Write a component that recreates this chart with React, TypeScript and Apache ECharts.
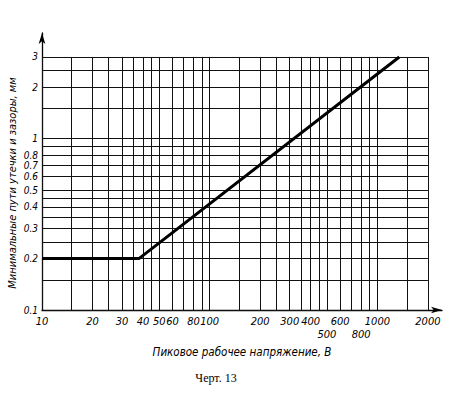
import React, { useEffect, useRef } from "react";
import * as echarts from "echarts";

// Grid values (log paper)
const xGrid = [10, 15, 20, 25, 30, 35, 40, 45, 50, 60, 70, 80, 90, 100, 150, 200, 250, 300, 350, 400, 450, 500, 600, 700, 800, 900, 1000, 1500, 2000];
const yGrid = [0.1, 0.15, 0.2, 0.25, 0.3, 0.35, 0.4, 0.45, 0.5, 0.6, 0.7, 0.8, 0.9, 1, 1.5, 2, 2.5, 3];
// Tick labels
const xLabels = [10, 20, 30, 40, 50, 60, 80, 100, 200, 300, 400, 500, 600, 800, 1000, 2000];
const xLowerRow = [500, 800];
const yLabels = [0.1, 0.2, 0.3, 0.4, 0.5, 0.6, 0.7, 0.8, 1, 2, 3];
// Curve
const voltage = [10, 38, 1350];
const clearance = [0.2, 0.2, 3];

const X_MIN = 10;
const X_GRID_MAX = 2000;
const Y_MIN = 0.1;
const Y_GRID_MAX = 3;

const FONT = "'DejaVu Sans Condensed', 'Liberation Sans Narrow', 'DejaVu Sans', sans-serif";

export default function App() {
  const ref = useRef<HTMLDivElement>(null);
  useEffect(() => {
    if (!ref.current) return;
    const chart = echarts.init(ref.current, undefined, { renderer: "svg" });
    const gridLines: any[] = [];
    xGrid.forEach((x) => gridLines.push([{ coord: [x, Y_MIN] }, { coord: [x, Y_GRID_MAX] }]));
    yGrid.forEach((y) => gridLines.push([{ coord: [X_MIN, y] }, { coord: [X_GRID_MAX, y] }]));
    const fmt = (v: number) => String(Number(Number(v).toPrecision(3)));
    chart.setOption({
      animation: false,
      backgroundColor: "#fff",
      grid: { left: 42, right: 9, top: 33, bottom: 85 },
      xAxis: {
        type: "log",
        logBase: 10,
        min: X_MIN,
        max: 2427,
        axisLine: {
          show: true,
          symbol: ["none", "arrow"],
          symbolSize: [5, 11],
          lineStyle: { color: "#000", width: 1.3 },
        },
        axisTick: { show: false },
        splitLine: { show: false },
        minorSplitLine: { show: false },
        axisLabel: {
          customValues: xLabels,
          color: "#000",
          fontFamily: FONT,
          fontStyle: "italic",
          fontSize: 11,
          margin: 5,
          lineHeight: 13,
          formatter: (v: number) => {
            const s = fmt(v);
            return xLowerRow.includes(Number(s)) ? "\n" + s : s;
          },
        },
      },
      yAxis: {
        type: "log",
        logBase: 10,
        min: Y_MIN,
        max: 4.14,
        axisLine: {
          show: true,
          symbol: ["none", "arrow"],
          symbolSize: [5, 11],
          lineStyle: { color: "#000", width: 1.3 },
        },
        axisTick: { show: false },
        splitLine: { show: false },
        axisLabel: {
          customValues: yLabels,
          color: "#000",
          fontFamily: FONT,
          fontStyle: "italic",
          fontSize: 10,
          lineHeight: 10,
          margin: 4,
          formatter: (v: number) => fmt(v),
        },
      },
      series: [
        {
          type: "line",
          data: voltage.map((v, i) => [v, clearance[i]]),
          symbol: "none",
          lineStyle: { color: "#000", width: 3 },
          z: 5,
          markLine: {
            silent: true,
            symbol: "none",
            label: { show: false },
            lineStyle: { color: "#111", width: 1, type: "solid" },
            data: gridLines,
            z: 1,
          },
        },
      ],
      graphic: [
        {
          type: "text",
          x: 12,
          y: 183,
          rotation: Math.PI / 2,
          style: {
            text: "Минимальные пути утечки и зазоры, мм",
            fill: "#000",
            font: `italic 11px ${FONT}`,
            align: "center",
            verticalAlign: "middle",
          },
        },
        {
          type: "text",
          x: 242,
          y: 352,
          style: {
            text: "Пиковое рабочее напряжение, В",
            fill: "#000",
            font: `italic 11.5px ${FONT}`,
            align: "center",
            verticalAlign: "middle",
          },
        },
        {
          type: "text",
          x: 216,
          y: 378,
          style: {
            text: "Черт. 13",
            fill: "#000",
            font: "12px 'Liberation Serif', 'Times New Roman', serif",
            align: "center",
            verticalAlign: "middle",
          },
        },
      ],
    });
    return () => chart.dispose();
  }, []);
  return (
    <div
      ref={ref}
      style={{ position: "absolute", left: 0, top: 0, width: 451, height: 395 }}
    />
  );
}
